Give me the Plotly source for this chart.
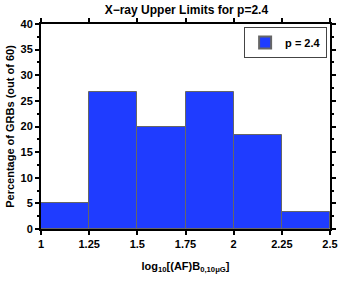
import plotly.graph_objects as go

bin_centers = [1.125, 1.375, 1.625, 1.875, 2.125, 2.375]
percent = [5.0, 26.67, 20.0, 26.67, 18.33, 3.33]
x_ticks = [1, 1.25, 1.5, 1.75, 2, 2.25, 2.5]
x_ticklabels = ["1", "1.25", "1.5", "1.75", "2", "2.25", "2.5"]
y_ticks = [0, 5, 10, 15, 20, 25, 30, 35, 40]

fig = go.Figure()
fig.add_trace(go.Bar(
    x=bin_centers, y=percent, width=0.25, name="<b>p = 2.4</b>",
    marker=dict(color="#1f3cff", line=dict(color="#666666", width=1)),
))

font = dict(family="Liberation Sans, Arial, sans-serif", color="black")
fig.update_layout(
    width=342, height=284,
    margin=dict(l=41, r=12, t=24, b=55),
    plot_bgcolor="white", paper_bgcolor="white",
    font=dict(size=11, **font),
    title=dict(text="<b>X\u2212ray Upper Limits for p=2.4</b>", x=0.545, xanchor="center",
               y=0.965, yanchor="middle", font=dict(size=12, **font), automargin=False),
    showlegend=True,
    legend=dict(x=0.99, y=0.985, xanchor="right", yanchor="top",
                bordercolor="#444", borderwidth=1, bgcolor="white",
                font=dict(size=11, **font), itemwidth=30,
                tracegroupgap=0, itemsizing="constant"),
    bargap=0,
)
fig.update_xaxes(
    range=[1, 2.5], tickvals=x_ticks, ticktext=["<b>%s</b>" % t for t in x_ticklabels],
    ticks="outside", ticklen=4, tickwidth=1.5, tickcolor="black",
    showline=True, linecolor="black", linewidth=2, mirror="ticks", showgrid=False,
    zeroline=False, automargin=False,
    title=dict(text="<b>log<sub>10</sub>[(AF)B<sub>0,10\u03bcG</sub>]</b>", font=dict(size=11, **font), standoff=13),
)
fig.update_yaxes(
    range=[0, 40], tickvals=y_ticks, ticktext=["<b>%d</b>" % v for v in y_ticks],
    ticks="outside", ticklen=4, tickwidth=1.5, tickcolor="black",
    minor=dict(dtick=2.5, ticks="outside", ticklen=2, tickcolor="black", showgrid=False),
    showline=True, linecolor="black", linewidth=2, mirror="ticks", showgrid=False,
    zeroline=False, automargin=False,
    title=dict(text="<b>Percentage of GRBs (out of 60)</b>", font=dict(size=11, **font), standoff=4),
)
fig.write_html("out.html", config={"displayModeBar": False},
               post_script="document.body.style.margin='0';")
